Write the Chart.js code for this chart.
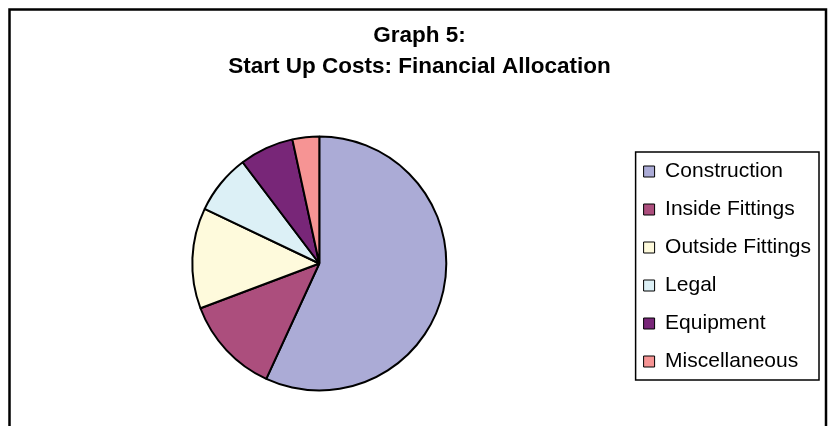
<!DOCTYPE html>
<html>
<head>
<meta charset="utf-8">
<script src="https://cdn.jsdelivr.net/npm/chart.js@4.4.1/dist/chart.umd.min.js"></script>
<style>
  html, body { margin: 0; padding: 0; background: #fff; }
  #wrap { width: 831px; height: 426px; }
</style>
</head>
<body>
<div id="wrap"><canvas id="pieChart" width="831" height="426"></canvas></div>
<script>
const labels = ['Construction', 'Inside Fittings', 'Outside Fittings', 'Legal', 'Equipment', 'Miscellaneous'];
const values = [56.8, 12.4, 12.8, 7.6, 6.9, 3.4];
const colors = ['#ABABD6', '#AC4E7D', '#FEFADC', '#DCF0F6', '#782678', '#F69494'];

// outer frame + box round the legend
const framePlugin = {
    id: 'frame',
    beforeDraw(chart) {
        const ctx = chart.ctx;
        ctx.save();
        ctx.strokeStyle = '#000';
        ctx.lineWidth = 2.5;
        ctx.strokeRect(9.5, 9.5, 816.5, 430);
        ctx.restore();
    },
    afterDraw(chart) {
        const boxes = chart.legend.legendHitBoxes;
        if (!boxes || !boxes.length) return;
        const left = Math.min(...boxes.map(b => b.left));
        const top = Math.min(...boxes.map(b => b.top));
        const right = Math.max(...boxes.map(b => b.left + b.width));
        const bottom = Math.max(...boxes.map(b => b.top + b.height));
        const ctx = chart.ctx;
        ctx.save();
        ctx.strokeStyle = '#000';
        ctx.lineWidth = 1.5;
        ctx.strokeRect(left - 8, top - 9, right - left + 16, bottom - top + 17);
        ctx.restore();
    }
};

new Chart(document.getElementById('pieChart').getContext('2d'), {
    type: 'pie',
    data: {
        labels: labels,
        datasets: [{
            data: values,
            backgroundColor: colors,
            borderColor: '#000',
            borderWidth: 2
        }]
    },
    options: {
        responsive: false,
        animation: false,
        layout: {
            padding: { left: 12, right: 4, top: 10, bottom: 34.5 }
        },
        plugins: {
            title: {
                display: true,
                text: ['Graph 5:', 'Start Up Costs: Financial Allocation'],
                color: '#000',
                font: { family: 'Liberation Sans', size: 22.5, weight: 'bold', lineHeight: '31px' },
                padding: { top: 10.5, bottom: 53 }
            },
            // empty spacer on the right so the title sits where it does in the original
            subtitle: {
                display: true,
                position: 'right',
                fullSize: false,
                text: '',
                font: { size: 5, lineHeight: 1.2 },
                padding: 0
            },
            legend: {
                position: 'right',
                fullSize: false,
                title: { display: true, text: '', font: { size: 5, lineHeight: 1.2 }, padding: 0 },
                labels: {
                    color: '#000',
                    font: { family: 'Liberation Sans', size: 21 },
                    boxWidth: 11,
                    boxHeight: 11,
                    padding: 17,
                    generateLabels(chart) {
                        return labels.map((text, i) => ({
                            text: text,
                            fillStyle: colors[i],
                            strokeStyle: '#000',
                            fontColor: '#000',
                            lineWidth: 1,
                            hidden: false,
                            index: i
                        }));
                    }
                }
            },
            tooltip: { enabled: false }
        }
    },
    plugins: [framePlugin]
});
</script>
</body>
</html>
